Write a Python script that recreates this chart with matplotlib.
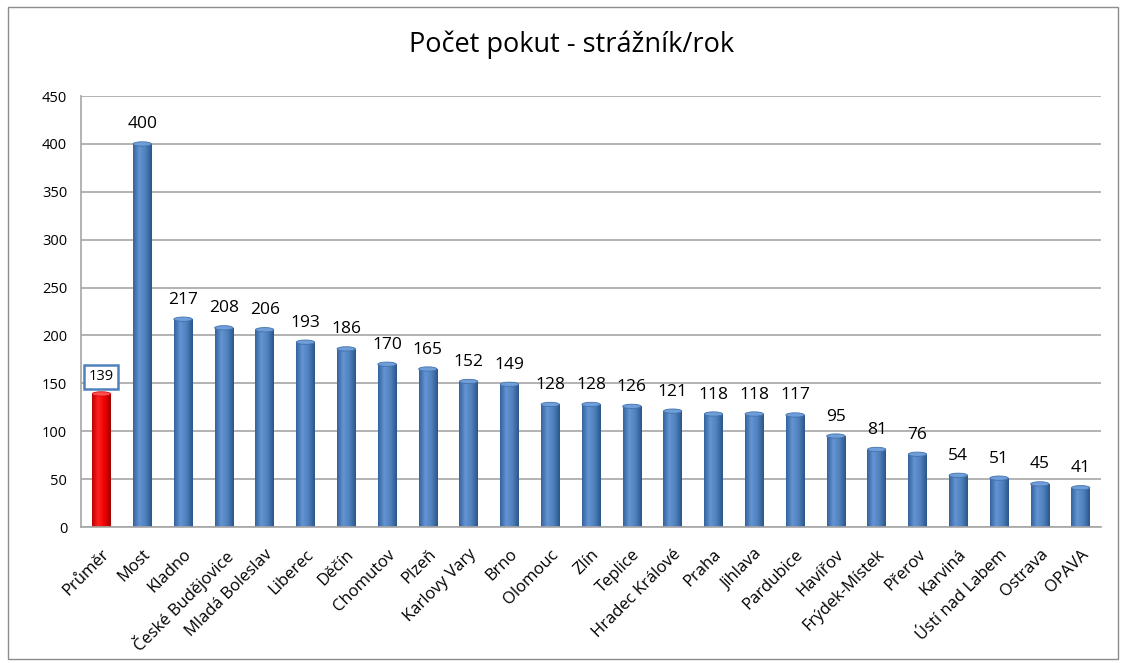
import numpy as np
import matplotlib
matplotlib.use("Agg")
import matplotlib.pyplot as plt
from matplotlib.patches import Rectangle, Ellipse
from matplotlib.colors import LinearSegmentedColormap

plt.rcParams['font.family'] = ['Open Sans', 'DejaVu Sans']

mesta = ["Průměr", "Most", "Kladno", "České Budějovice", "Mladá Boleslav", "Liberec",
         "Děčín", "Chomutov", "Plzeň", "Karlovy Vary", "Brno", "Olomouc", "Zlín",
         "Teplice", "Hradec Králové", "Praha", "Jihlava", "Pardubice", "Havířov",
         "Frýdek-Místek", "Přerov", "Karviná", "Ústí nad Labem", "Ostrava", "OPAVA"]
pokuty = [139, 400, 217, 208, 206, 193, 186, 170, 165, 152, 149, 128, 128,
          126, 121, 118, 118, 117, 95, 81, 76, 54, 51, 45, 41]
titulek = "Počet pokut - strážník/rok"

modra = LinearSegmentedColormap.from_list("m", ["#34649e", "#6494d2", "#4f81bd", "#2b5688"])
cervena = LinearSegmentedColormap.from_list("c", ["#c00000", "#ff2020", "#ee0000", "#a00000"])

fig = plt.figure(figsize=(11.3, 6.63), dpi=100)
ax = fig.add_axes([0.0717, 0.2051, 0.9027, 0.65])

sirka = 0.45
grad = np.linspace(0, 1, 64).reshape(1, -1)
for i, v in enumerate(pokuty):
    cm = cervena if i == 0 else modra
    r = Rectangle((i - sirka / 2, 0), sirka, v, facecolor="none", edgecolor="none")
    ax.add_patch(r)
    im = ax.imshow(grad, cmap=cm, aspect="auto", extent=(i - sirka / 2, i + sirka / 2, 0, v),
                   zorder=2)
    im.set_clip_path(r)
    vrch = "#ff5050" if i == 0 else "#6f9ed8"
    ax.add_patch(Ellipse((i, v), sirka, 4.5, facecolor=vrch, edgecolor=cm(0.1), lw=0.6, zorder=3))
    ax.add_patch(Ellipse((i, 0), sirka, 4.5, facecolor=cm(0.5), edgecolor="none", zorder=1.9))
    if i == 0:
        ax.text(i, v + 18, str(v), ha="center", va="center", fontsize=10.5,
                bbox=dict(boxstyle="square,pad=0.3", fc="white", ec="#4f81bd", lw=1.8))
    else:
        ax.text(i, v + 12, str(v), ha="center", va="bottom", fontsize=12.5)

ax.set_xlim(-0.5, len(mesta) - 0.5)
ax.set_ylim(0, 450)
ax.set_yticks(np.arange(0, 451, 50))
ax.tick_params(axis="y", length=0, labelsize=10.5, pad=10)
ax.set_xticks(range(len(mesta)))
ax.set_xticklabels(mesta, rotation=45, ha="right", rotation_mode="anchor", fontsize=12)
ax.tick_params(axis="x", length=0, pad=14)
ax.grid(axis="y", color="#a6a6a6", lw=1.2, zorder=0)
ax.set_axisbelow(True)
for s in ["top", "right"]:
    ax.spines[s].set_visible(False)
for s in ["left", "bottom"]:
    ax.spines[s].set_color("#a6a6a6")
    ax.spines[s].set_linewidth(1.2)

fig.text(0.506, 0.932, titulek, ha="center", va="center", fontsize=19.5)
fig.patches.append(Rectangle((0.007, 0.006), 0.982, 0.984, transform=fig.transFigure,
                             fill=False, edgecolor="#8c8c8c", lw=1))

fig.savefig("out.png", dpi=100)
